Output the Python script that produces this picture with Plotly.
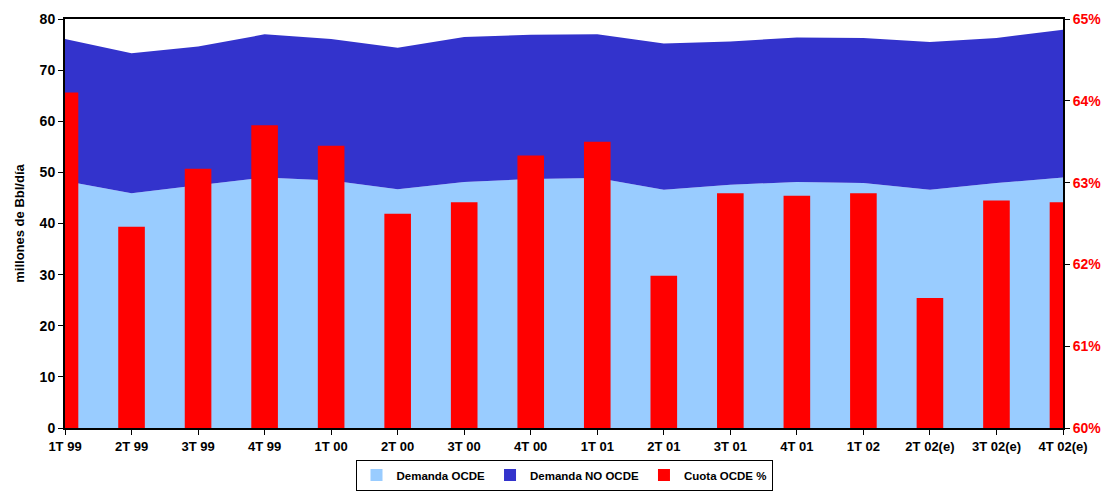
import plotly.graph_objects as go

trimestres = ["1T 99", "2T 99", "3T 99", "4T 99", "1T 00", "2T 00", "3T 00", "4T 00",
              "1T 01", "2T 01", "3T 01", "4T 01", "1T 02", "2T 02(e)", "3T 02(e)", "4T 02(e)"]

# millones de barriles diarios
demanda_ocde = [48.3, 45.9, 47.5, 49.0, 48.4, 46.7, 48.1, 48.7,
                48.9, 46.6, 47.6, 48.1, 47.9, 46.6, 47.9, 49.0]
demanda_total = [76.1, 73.3, 74.6, 77.0, 76.1, 74.4, 76.5, 76.9,
                 77.0, 75.2, 75.6, 76.4, 76.3, 75.5, 76.3, 77.9]
demanda_no_ocde = [round(t - o, 2) for t, o in zip(demanda_total, demanda_ocde)]

# cuota OCDE en la demanda mundial (%)
cuota_ocde = [64.10, 62.46, 63.17, 63.70, 63.45, 62.62, 62.76, 63.33,
              63.50, 61.86, 62.87, 62.84, 62.87, 61.59, 62.78, 62.76]

cuota_ticks = [60, 61, 62, 63, 64, 65]
demanda_ticks = [0, 10, 20, 30, 40, 50, 60, 70, 80]

FONT = "Liberation Sans, Arial, sans-serif"
C_OCDE, C_NO_OCDE, C_CUOTA = "#99CCFF", "#3333CC", "#FF0000"
PISO_CUOTA = 60


def b(s):
    return f"<b>{s}</b>"


fig = go.Figure()
fig.add_trace(go.Scatter(
    x=trimestres, y=demanda_ocde, name=b("Demanda OCDE"),
    stackgroup="dem", mode="none", fillcolor=C_OCDE, showlegend=False,
))
fig.add_trace(go.Scatter(
    x=trimestres, y=demanda_no_ocde, name=b("Demanda NO OCDE"),
    stackgroup="dem", mode="none", fillcolor=C_NO_OCDE, showlegend=False,
))
# share bars on the percentage axis, rising from the 60% floor
fig.add_trace(go.Bar(
    x=trimestres, y=[round(c - PISO_CUOTA, 2) for c in cuota_ocde], base=PISO_CUOTA,
    name=b("Cuota OCDE %"), marker=dict(color=C_CUOTA, line=dict(width=0)),
    width=0.4, yaxis="y2", showlegend=False,
))

# square legend keys
for nombre, color in [("Demanda OCDE", C_OCDE), ("Demanda NO OCDE", C_NO_OCDE),
                      ("Cuota OCDE %", C_CUOTA)]:
    fig.add_trace(go.Bar(
        x=[trimestres[0]], y=[None], name=b(nombre),
        marker=dict(color=color, line=dict(width=0)), showlegend=True,
    ))

fig.update_layout(
    width=1109, height=492,
    margin=dict(l=65, r=46, t=19, b=64, autoexpand=False),
    plot_bgcolor="white", paper_bgcolor="white",
    font=dict(family=FONT, color="black"),
    showlegend=True,
    legend=dict(
        orientation="h", x=0.5, xanchor="center", y=-0.153, yanchor="bottom",
        bordercolor="black", borderwidth=1, bgcolor="white",
        font=dict(size=11.5, family=FONT),
        itemwidth=30, tracegroupgap=0, traceorder="normal",
        itemclick=False, itemdoubleclick=False,
    ),
    xaxis=dict(
        type="category", range=[0, 15],
        tickvals=trimestres, ticktext=[b(t) for t in trimestres],
        showline=True, linecolor="black", linewidth=2, mirror=True,
        ticks="outside", ticklen=5, tickcolor="black", tickwidth=1,
        showgrid=False, tickfont=dict(size=13, family=FONT),
    ),
    yaxis=dict(
        range=[0, 80], showgrid=False,
        tickvals=demanda_ticks, ticktext=[b(v) for v in demanda_ticks],
        showline=True, linecolor="black", linewidth=2,
        ticks="outside", ticklen=5, tickcolor="black",
        tickfont=dict(size=14, family=FONT),
        title=dict(text=b("millones de Bbl/día"), standoff=12,
                   font=dict(size=13, family=FONT)),
        zeroline=False,
    ),
    yaxis2=dict(
        overlaying="y", side="right", range=[60, 65], showgrid=False,
        tickvals=cuota_ticks, ticktext=[b(f"{v}%") for v in cuota_ticks],
        showline=True, linecolor="black", linewidth=2,
        ticks="outside", ticklen=5, tickcolor="black",
        tickfont=dict(size=14, color=C_CUOTA, family=FONT),
        zeroline=False,
    ),
    barmode="overlay",
)

fig.write_html("out.html")
